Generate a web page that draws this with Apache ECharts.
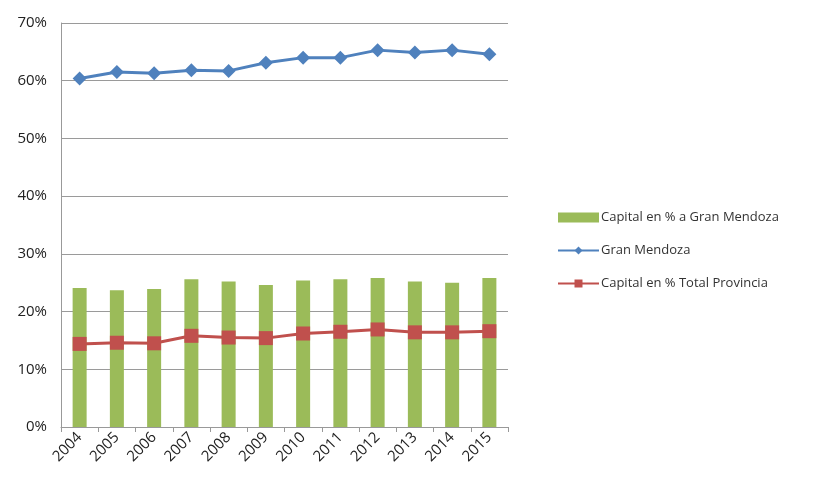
<!DOCTYPE html>
<html><head><meta charset="utf-8">
<script src="https://cdn.jsdelivr.net/npm/echarts@6/dist/echarts.min.js"></script>
<style>html,body{margin:0;padding:0;background:#fff}#c{width:818px;height:482px}</style>
</head><body><div id="c"></div>
<script>
const years = ['2004','2005','2006','2007','2008','2009','2010','2011','2012','2013','2014','2015'];
const capitalGranMendoza = [24.1,23.7,23.9,25.6,25.2,24.6,25.4,25.6,25.8,25.2,25.0,25.8];
const granMendoza = [60.4,61.5,61.3,61.8,61.7,63.1,64.0,64.0,65.3,64.9,65.3,64.6];
const capitalTotalProvincia = [14.4,14.6,14.5,15.8,15.5,15.4,16.2,16.5,16.9,16.4,16.4,16.6];
const yTicks = [0,10,20,30,40,50,60,70];

const chart = echarts.init(document.getElementById('c'), null, {renderer:'canvas'});
const font = "'Open Sans', 'Noto Sans', sans-serif";
chart.setOption({
  animation:false,
  backgroundColor:'#fff',
  grid:{left:61,top:23,right:310,bottom:55,containLabel:false},
  legend:{
    orient:'vertical', left:552, top:206, itemGap:20, itemWidth:41, itemHeight:10,
    textStyle:{fontFamily:font,fontSize:13,color:'#333',padding:[0,0,0,-3]},
    data:[
      {name:'Capital en % a Gran Mendoza',icon:'rect'},
      {name:'Gran Mendoza',itemStyle:{}},
      {name:'Capital en % Total Provincia'}
    ]
  },
  xAxis:{
    type:'category', data:years, boundaryGap:true,
    axisLine:{lineStyle:{color:'#999',width:1}},
    axisTick:{show:true,alignWithLabel:false,length:5,lineStyle:{color:'#999'}},
    axisLabel:{rotate:45,fontFamily:font,fontSize:15,color:'#222',margin:8,interval:0}
  },
  yAxis:{
    type:'value', min:yTicks[0], max:yTicks[yTicks.length-1], interval:10,
    axisLine:{show:true,lineStyle:{color:'#999'}},
    axisTick:{show:false},
    splitLine:{lineStyle:{color:'#9a9a9a',width:1}},
    axisLabel:{formatter:'{value}%',fontFamily:font,fontSize:15,color:'#222',margin:14}
  },
  series:[
    {name:'Capital en % a Gran Mendoza',type:'bar',data:capitalGranMendoza,barWidth:14,
     itemStyle:{color:'#9BBB59'}},
    {name:'Gran Mendoza',type:'line',data:granMendoza,symbol:'diamond',symbolSize:14,
     lineStyle:{color:'#4F81BD',width:3},itemStyle:{color:'#4F81BD'}},
    {name:'Capital en % Total Provincia',type:'line',data:capitalTotalProvincia,symbol:'rect',symbolSize:14,
     lineStyle:{color:'#C0504D',width:3},itemStyle:{color:'#C0504D'}}
  ]
});
</script></body></html>
